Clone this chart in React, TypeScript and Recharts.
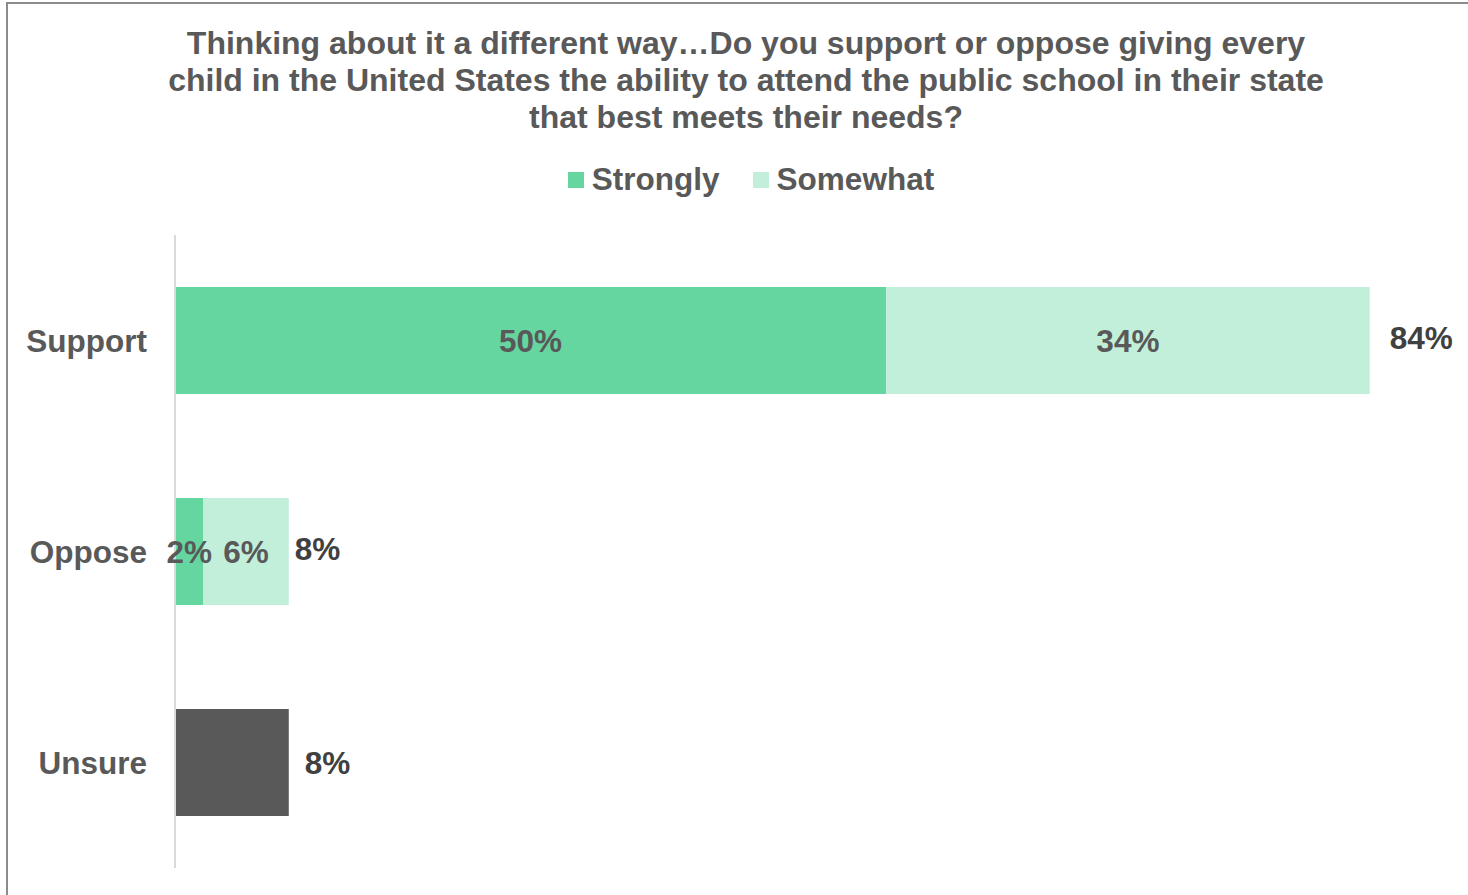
import { BarChart, Bar, XAxis, YAxis, LabelList } from 'recharts';

const categories = ['Support', 'Oppose', 'Unsure'];
const strongly = [50, 2, null];
const somewhat = [34, 6, null];
const unsure = [null, null, 8];
const totals = [84, 8, null];

const TITLE = [
  'Thinking about it a different way…Do you support or oppose giving every',
  'child in the United States the ability to attend the public school in their state',
  'that best meets their needs?',
];

const FONT = 'Arial, "Liberation Sans", Helvetica, sans-serif';
const GREEN = '#66D6A0';
const LIGHT = '#C2EFDA';
const DARK = '#595959';

const data = categories.map((c, i) => ({
  name: c,
  strongly: strongly[i],
  somewhat: somewhat[i],
  unsure: unsure[i],
  total: totals[i],
}));

const fmt = (v: any) => (v == null ? '' : `${v}%`);

function TotalLabel(props: any) {
  const { x, y, width, height, index } = props;
  const t = totals[index];
  if (t == null) return null;
  const dx = index === 0 ? 20 : 6;
  return (
    <text x={x + width + dx} y={y + height / 2 - 3} dominantBaseline="central"
      fill="#404040" fontSize={31.5} fontWeight="bold" fontFamily={FONT}>
      {t}%
    </text>
  );
}

export default function App() {
  return (
    <div style={{ position: 'absolute', left: 0, top: 0, width: 1468, height: 895, background: '#fff', fontFamily: FONT }}>
      <div style={{ position: 'absolute', left: 6, top: 2, right: -10, bottom: -10, borderLeft: '2px solid #8c8c8c', borderTop: '2px solid #8c8c8c' }} />
      <div style={{ position: 'absolute', left: 0, width: 1492, top: 25, textAlign: 'center', color: DARK, fontWeight: 'bold', fontSize: 32, lineHeight: '37px' }}>
        {TITLE.map((t) => <div key={t}>{t}</div>)}
      </div>
      <div style={{ position: 'absolute', left: 0, width: 1502, top: 161, display: 'flex', justifyContent: 'center', color: DARK, fontWeight: 'bold', fontSize: 31.5, lineHeight: '37px' }}>
        {[['Strongly', GREEN], ['Somewhat', LIGHT]].map(([n, c], i) => (
          <div key={n} style={{ display: 'flex', alignItems: 'center', marginLeft: i ? 33 : 0 }}>
            <span style={{ width: 16, height: 16, background: c, display: 'inline-block', marginRight: 8 }} />
            {n}
          </div>
        ))}
      </div>
      <div style={{ position: 'absolute', left: 0, top: 0 }}>
        <BarChart width={1468} height={895} data={data} layout="vertical"
          margin={{ top: 235, right: 13, bottom: 27, left: 0 }} barSize={107}>
          <XAxis type="number" domain={[0, 90]} hide />
          <YAxis type="category" dataKey="name" width={175} tickLine={false}
            axisLine={{ stroke: '#d9d9d9', strokeWidth: 2 }}
            tick={{ fill: DARK, fontSize: 31.5, fontWeight: 'bold', fontFamily: FONT, dx: -20 }} />
          <Bar dataKey="strongly" stackId="a" fill={GREEN} isAnimationActive={false}>
            <LabelList dataKey="strongly" position="center" formatter={fmt}
              style={{ fill: DARK, fontSize: 31.5, fontWeight: 'bold', fontFamily: FONT }} />
          </Bar>
          <Bar dataKey="somewhat" stackId="a" fill={LIGHT} isAnimationActive={false}>
            <LabelList dataKey="somewhat" position="center" formatter={fmt}
              style={{ fill: DARK, fontSize: 31.5, fontWeight: 'bold', fontFamily: FONT }} />
            <LabelList dataKey="total" content={<TotalLabel />} />
          </Bar>
          <Bar dataKey="unsure" stackId="a" fill="#595959" isAnimationActive={false}>
            <LabelList dataKey="unsure" position="right" offset={16} formatter={fmt}
              style={{ fill: '#404040', fontSize: 31.5, fontWeight: 'bold', fontFamily: FONT }} />
          </Bar>
        </BarChart>
      </div>
    </div>
  );
}
